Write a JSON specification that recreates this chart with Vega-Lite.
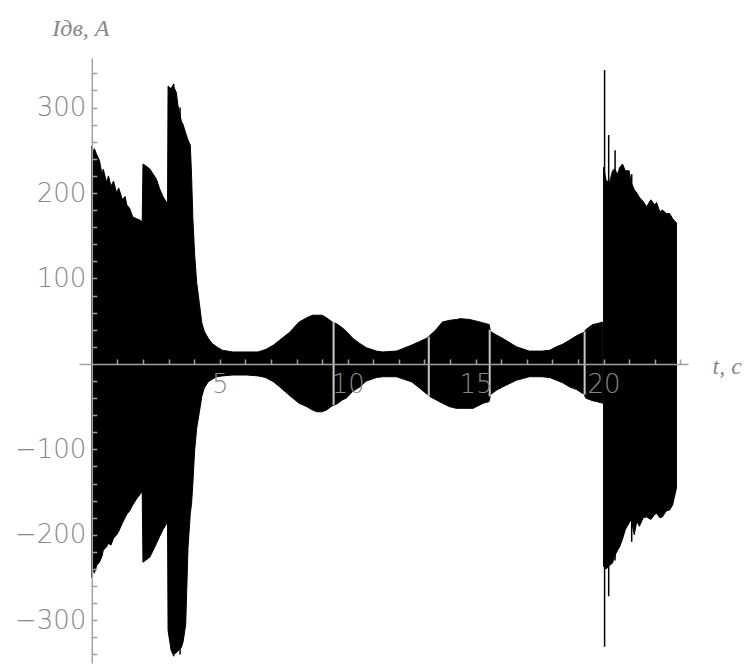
{
  "$schema": "https://vega.github.io/schema/vega-lite/v6.json",
  "autosize": {"type": "none"},
  "padding": {"left": 79, "top": 58, "right": 62, "bottom": 3},
  "width": 609,
  "height": 605,
  "background": "white",
  "config": {"view": {"stroke": null}, "axis": {"labelOverlap": false, "labelBound": false, "labelFlush": false}},
  "datasets": {
    "env": [
      {"t": 0, "hi": 255, "lo": -250, "seg": "a"},
      {"t": 0.05, "hi": 248, "lo": -240, "seg": "a"},
      {"t": 0.1, "hi": 252, "lo": -245, "seg": "a"},
      {"t": 0.19, "hi": 245, "lo": -236, "seg": "a"},
      {"t": 0.3, "hi": 238, "lo": -232, "seg": "a"},
      {"t": 0.4, "hi": 222, "lo": -225, "seg": "a"},
      {"t": 0.45, "hi": 228, "lo": -218, "seg": "a"},
      {"t": 0.58, "hi": 212, "lo": -214, "seg": "a"},
      {"t": 0.65, "hi": 220, "lo": -210, "seg": "a"},
      {"t": 0.75, "hi": 208, "lo": -212, "seg": "a"},
      {"t": 0.85, "hi": 214, "lo": -204, "seg": "a"},
      {"t": 0.97, "hi": 200, "lo": -200, "seg": "a"},
      {"t": 1.05, "hi": 206, "lo": -196, "seg": "a"},
      {"t": 1.2, "hi": 192, "lo": -186, "seg": "a"},
      {"t": 1.3, "hi": 196, "lo": -180, "seg": "a"},
      {"t": 1.37, "hi": 186, "lo": -176, "seg": "a"},
      {"t": 1.48, "hi": 182, "lo": -172, "seg": "a"},
      {"t": 1.6, "hi": 172, "lo": -165, "seg": "a"},
      {"t": 1.75, "hi": 170, "lo": -158, "seg": "a"},
      {"t": 1.9, "hi": 168, "lo": -152, "seg": "a"},
      {"t": 1.97, "hi": 166, "lo": -150, "seg": "a"},
      {"t": 2.0, "hi": 234, "lo": -232, "seg": "a"},
      {"t": 2.1, "hi": 232, "lo": -230, "seg": "a"},
      {"t": 2.27, "hi": 228, "lo": -226, "seg": "a"},
      {"t": 2.4, "hi": 222, "lo": -218, "seg": "a"},
      {"t": 2.53, "hi": 216, "lo": -210, "seg": "a"},
      {"t": 2.65, "hi": 205, "lo": -202, "seg": "a"},
      {"t": 2.78, "hi": 196, "lo": -194, "seg": "a"},
      {"t": 2.9, "hi": 190, "lo": -188, "seg": "a"},
      {"t": 2.96, "hi": 188, "lo": -186, "seg": "a"},
      {"t": 2.98, "hi": 325, "lo": -312, "seg": "a"},
      {"t": 3.1, "hi": 322, "lo": -335, "seg": "a"},
      {"t": 3.17, "hi": 326, "lo": -340, "seg": "a"},
      {"t": 3.3, "hi": 318, "lo": -338, "seg": "a"},
      {"t": 3.37, "hi": 302, "lo": -336, "seg": "a"},
      {"t": 3.5, "hi": 284, "lo": -332, "seg": "a"},
      {"t": 3.57, "hi": 280, "lo": -325, "seg": "a"},
      {"t": 3.67, "hi": 270, "lo": -305, "seg": "a"},
      {"t": 3.76, "hi": 262, "lo": -215, "seg": "a"},
      {"t": 3.85, "hi": 256, "lo": -175, "seg": "a"},
      {"t": 3.9, "hi": 220, "lo": -163, "seg": "a"},
      {"t": 3.95, "hi": 170, "lo": -140, "seg": "a"},
      {"t": 4.02, "hi": 128, "lo": -101, "seg": "a"},
      {"t": 4.1, "hi": 95, "lo": -75, "seg": "a"},
      {"t": 4.2, "hi": 72, "lo": -57, "seg": "a"},
      {"t": 4.3, "hi": 48, "lo": -38, "seg": "a"},
      {"t": 4.4, "hi": 38, "lo": -28, "seg": "a"},
      {"t": 4.55, "hi": 30, "lo": -21, "seg": "a"},
      {"t": 4.7, "hi": 24, "lo": -18, "seg": "a"},
      {"t": 4.88, "hi": 20, "lo": -15, "seg": "a"},
      {"t": 5.1, "hi": 16, "lo": -14, "seg": "a"},
      {"t": 5.5, "hi": 14, "lo": -13, "seg": "a"},
      {"t": 6.05, "hi": 14, "lo": -13, "seg": "a"},
      {"t": 6.5, "hi": 14, "lo": -14, "seg": "a"},
      {"t": 6.8, "hi": 17, "lo": -16, "seg": "a"},
      {"t": 7.1, "hi": 22, "lo": -21, "seg": "a"},
      {"t": 7.35, "hi": 28, "lo": -27, "seg": "a"},
      {"t": 7.73, "hi": 37, "lo": -37, "seg": "a"},
      {"t": 8.1, "hi": 49, "lo": -46, "seg": "a"},
      {"t": 8.4, "hi": 54, "lo": -50, "seg": "a"},
      {"t": 8.63, "hi": 57, "lo": -54, "seg": "a"},
      {"t": 8.8, "hi": 57, "lo": -56, "seg": "a"},
      {"t": 9.0, "hi": 57, "lo": -56, "seg": "a"},
      {"t": 9.17, "hi": 54, "lo": -54, "seg": "a"},
      {"t": 9.4, "hi": 49, "lo": -49, "seg": "a"},
      {"t": 9.57, "hi": 47, "lo": -47, "seg": "a"},
      {"t": 9.8, "hi": 42, "lo": -42, "seg": "a"},
      {"t": 9.95, "hi": 38, "lo": -40, "seg": "a"},
      {"t": 10.2, "hi": 30, "lo": -32, "seg": "a"},
      {"t": 10.47, "hi": 24, "lo": -27, "seg": "a"},
      {"t": 10.73, "hi": 19, "lo": -20, "seg": "a"},
      {"t": 11.12, "hi": 15, "lo": -16, "seg": "a"},
      {"t": 11.37, "hi": 14, "lo": -15, "seg": "a"},
      {"t": 11.9, "hi": 15, "lo": -15, "seg": "a"},
      {"t": 12.0, "hi": 16, "lo": -16, "seg": "a"},
      {"t": 12.5, "hi": 22, "lo": -21, "seg": "a"},
      {"t": 12.8, "hi": 26, "lo": -28, "seg": "a"},
      {"t": 13.08, "hi": 30, "lo": -35, "seg": "a"},
      {"t": 13.2, "hi": 33, "lo": -38, "seg": "a"},
      {"t": 13.45, "hi": 40, "lo": -42, "seg": "a"},
      {"t": 13.7, "hi": 49, "lo": -46, "seg": "a"},
      {"t": 13.98, "hi": 51, "lo": -50, "seg": "a"},
      {"t": 14.25, "hi": 52, "lo": -52, "seg": "a"},
      {"t": 14.4, "hi": 53, "lo": -52, "seg": "a"},
      {"t": 14.77, "hi": 52, "lo": -52, "seg": "a"},
      {"t": 14.9, "hi": 51, "lo": -52, "seg": "a"},
      {"t": 15.3, "hi": 48, "lo": -46, "seg": "a"},
      {"t": 15.53, "hi": 46, "lo": -44, "seg": "a"},
      {"t": 15.58, "hi": 38, "lo": -36, "seg": "a"},
      {"t": 15.8, "hi": 34, "lo": -31, "seg": "a"},
      {"t": 16.05, "hi": 30, "lo": -27, "seg": "a"},
      {"t": 16.6, "hi": 20, "lo": -19, "seg": "a"},
      {"t": 17.1, "hi": 15, "lo": -15, "seg": "a"},
      {"t": 17.6, "hi": 15, "lo": -15, "seg": "a"},
      {"t": 17.9, "hi": 16, "lo": -16, "seg": "a"},
      {"t": 18.15, "hi": 20, "lo": -19, "seg": "a"},
      {"t": 18.4, "hi": 23, "lo": -22, "seg": "a"},
      {"t": 18.68, "hi": 28, "lo": -27, "seg": "a"},
      {"t": 18.95, "hi": 33, "lo": -30, "seg": "a"},
      {"t": 19.15, "hi": 36, "lo": -34, "seg": "a"},
      {"t": 19.24, "hi": 37, "lo": -35, "seg": "a"},
      {"t": 19.3, "hi": 40, "lo": -40, "seg": "a"},
      {"t": 19.57, "hi": 46, "lo": -43, "seg": "a"},
      {"t": 19.72, "hi": 47, "lo": -44, "seg": "a"},
      {"t": 19.97, "hi": 49, "lo": -46, "seg": "a"},
      {"t": 20.0, "hi": 230, "lo": -237, "seg": "b"},
      {"t": 20.1, "hi": 215, "lo": -240, "seg": "b"},
      {"t": 20.23, "hi": 212, "lo": -236, "seg": "b"},
      {"t": 20.35, "hi": 226, "lo": -233, "seg": "b"},
      {"t": 20.43, "hi": 228, "lo": -225, "seg": "b"},
      {"t": 20.55, "hi": 222, "lo": -218, "seg": "b"},
      {"t": 20.63, "hi": 230, "lo": -214, "seg": "b"},
      {"t": 20.74, "hi": 234, "lo": -205, "seg": "b"},
      {"t": 20.85, "hi": 226, "lo": -194, "seg": "b"},
      {"t": 21.0, "hi": 226, "lo": -186, "seg": "b"},
      {"t": 21.08, "hi": 212, "lo": -182, "seg": "b"},
      {"t": 21.2, "hi": 204, "lo": -200, "seg": "b"},
      {"t": 21.3, "hi": 200, "lo": -184, "seg": "b"},
      {"t": 21.4, "hi": 195, "lo": -190, "seg": "b"},
      {"t": 21.55, "hi": 190, "lo": -180, "seg": "b"},
      {"t": 21.68, "hi": 184, "lo": -179, "seg": "b"},
      {"t": 21.85, "hi": 192, "lo": -182, "seg": "b"},
      {"t": 22.0, "hi": 186, "lo": -176, "seg": "b"},
      {"t": 22.07, "hi": 189, "lo": -175, "seg": "b"},
      {"t": 22.2, "hi": 178, "lo": -180, "seg": "b"},
      {"t": 22.3, "hi": 180, "lo": -179, "seg": "b"},
      {"t": 22.45, "hi": 176, "lo": -172, "seg": "b"},
      {"t": 22.58, "hi": 176, "lo": -171, "seg": "b"},
      {"t": 22.7, "hi": 170, "lo": -165, "seg": "b"},
      {"t": 22.85, "hi": 165, "lo": -145, "seg": "b"}
    ],
    "spikes": [
      {"t": 20.04, "hi": 344, "lo": -331},
      {"t": 20.2, "hi": 268, "lo": -272},
      {"t": 20.45, "hi": 250, "lo": -230},
      {"t": 21.1, "hi": 222, "lo": -208},
      {"t": 3.2, "hi": 328, "lo": -342},
      {"t": 3.45, "hi": 300, "lo": -340}
    ],
    "gaps": [
      {"t": 9.45, "hi": 49, "lo": -48},
      {"t": 13.17, "hi": 32, "lo": -38},
      {"t": 15.55, "hi": 40, "lo": -38},
      {"t": 19.26, "hi": 38, "lo": -36}
    ]
  },
  "encoding": {
    "x": {
      "field": "t", "type": "quantitative",
      "scale": {"domain": [-0.5, 23.3], "nice": false, "zero": false},
      "axis": {
        "values": [1,2,3,4,5,6,7,8,9,10,11,12,13,14,15,16,17,18,19,20,21,22,23],
        "labelExpr": "datum.value % 5 === 0 ? datum.label : ''",
        "tickSize": -5, "offset": -299, "grid": false,
        "domainColor": "#a0a0a0", "domainWidth": 1.5, "tickColor": "#a0a0a0", "tickWidth": 1.5,
        "labelColor": "#888888", "labelFont": "DejaVu Sans", "labelFontSize": 26, "labelFontWeight": 200,
        "labelPadding": 12, "labelOverlap": false, "labelFlush": false,
        "title": "t, с", "titleX": 633, "titleY": 9, "titleAlign": "left", "titleBaseline": "alphabetic",
        "titleFont": "Liberation Serif", "titleFontStyle": "italic", "titleFontWeight": "normal",
        "titleFontSize": 24, "titleColor": "#888888", "zindex": 1
      }
    },
    "y": {
      "field": "hi", "type": "quantitative",
      "scale": {"domain": [-350, 358], "nice": false, "zero": false},
      "axis": {
        "values": [-340,-320,-300,-280,-260,-240,-220,-200,-180,-160,-140,-120,-100,-80,-60,-40,-20,20,40,60,80,100,120,140,160,180,200,220,240,260,280,300,320,340],
        "labelExpr": "datum.value % 100 === 0 ? datum.label : ''",
        "tickSize": -5, "offset": -12.8, "grid": false,
        "domainColor": "#a0a0a0", "domainWidth": 1.5, "tickColor": "#a0a0a0", "tickWidth": 1.5,
        "labelColor": "#888888", "labelFont": "DejaVu Sans", "labelFontSize": 26, "labelFontWeight": 200,
        "labelPadding": 11, "labelOverlap": false, "labelFlush": false,
        "title": "Iдв, A", "titleAngle": 0, "titleX": -40, "titleY": -23, "titleAlign": "left", "titleBaseline": "alphabetic",
        "titleFont": "Liberation Serif", "titleFontStyle": "italic", "titleFontWeight": "normal",
        "titleFontSize": 24, "titleColor": "#888888", "zindex": 1
      }
    },
    "y2": {"field": "lo"}
  },
  "layer": [
    {
      "data": {"name": "env"},
      "mark": {"type": "area", "color": "black", "stroke": "black", "strokeWidth": 1, "interpolate": "linear"},
      "encoding": {"detail": {"field": "seg"}}
    },
    {
      "data": {"name": "spikes"},
      "mark": {"type": "rule", "color": "black", "strokeWidth": 1.5},
      "encoding": {}
    },
    {
      "data": {"name": "gaps"},
      "mark": {"type": "rule", "color": "#c8c8c8", "strokeWidth": 2},
      "encoding": {}
    }
  ]
}
